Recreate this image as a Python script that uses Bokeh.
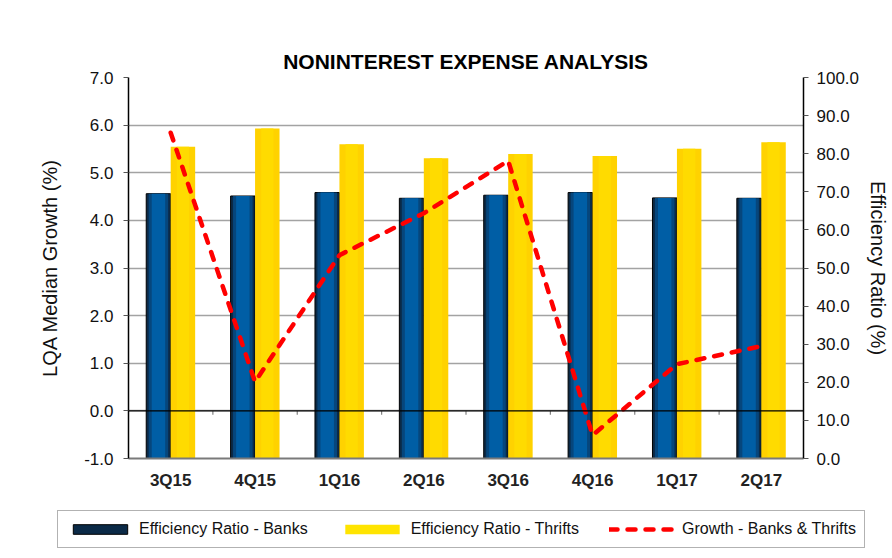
from bokeh.plotting import figure
from bokeh.models import (Range1d, LinearAxis, FixedTicker, Span, Legend, LegendItem,
                          ColumnDataSource, NumeralTickFormatter)
from bokeh.layouts import column, row
from bokeh.embed import file_html
from bokeh.resources import INLINE

quarters = ["3Q15", "4Q15", "1Q16", "2Q16", "3Q16", "4Q16", "1Q17", "2Q17"]
eff_banks = [69.5, 68.9, 69.8, 68.3, 69.1, 69.8, 68.4, 68.3]
eff_thrifts = [81.8, 86.6, 82.5, 78.8, 79.9, 79.4, 81.3, 83.0]
growth = [5.84, 0.61, 3.27, 4.15, 5.25, -0.51, 0.98, 1.36]
left_ticks = [-1, 0, 1, 2, 3, 4, 5, 6, 7]
right_ticks = [0, 10, 20, 30, 40, 50, 60, 70, 80, 90, 100]
series_names = ["Efficiency Ratio - Banks", "Efficiency Ratio - Thrifts", "Growth - Banks & Thrifts"]

FONT = "Liberation Sans"
BLUE_EDGE, BLUE_MID, BLUE_IN = "#0b2a47", "#06467c", "#005ea5"
YELLOW, YELLOW_IN = "#ffd200", "#ffdb00"
RED = "#ff0000"
n = len(quarters)
centers = [i + 0.5 for i in range(n)]
bw = 0.29

src = ColumnDataSource(dict(
    xc=centers,
    xb=[c - bw / 2 for c in centers],
    xt=[c + bw / 2 for c in centers],
    banks=eff_banks,
    thrifts=eff_thrifts,
    growth=growth,
))

p = figure(width=892, height=505, output_backend="svg", toolbar_location=None,
           x_range=Range1d(0, n), y_range=Range1d(left_ticks[0], left_ticks[-1]),
           min_border_left=128, min_border_right=87, min_border_top=77, min_border_bottom=47,
           background_fill_color="white", border_fill_color="white")
p.outline_line_color = None
p.extra_y_ranges = {"eff": Range1d(right_ticks[0], right_ticks[-1])}

# title
p.title.text = "NONINTEREST EXPENSE ANALYSIS"
p.title.align = "center"
p.title.text_font = FONT
p.title.text_font_size = "21px"
p.title.text_font_style = "bold"
p.title.text_color = "black"
p.title.standoff = 10

# grid
p.xgrid.grid_line_color = None
p.ygrid.grid_line_color = "#a3a3a3"
p.ygrid.grid_line_width = 1.6
p.ygrid.ticker = FixedTicker(ticks=left_ticks)

# bars (right axis)
p.vbar(x="xb", top="banks", bottom=0, width=bw, source=src, y_range_name="eff",
       fill_color=BLUE_EDGE, line_color="black", line_width=1)
p.vbar(x="xb", top="banks", bottom=0, width=bw * 0.8, source=src, y_range_name="eff",
       fill_color=BLUE_MID, line_color=None)
p.vbar(x="xb", top="banks", bottom=0, width=bw * 0.55, source=src, y_range_name="eff",
       fill_color=BLUE_IN, line_color=None)
p.vbar(x="xt", top="thrifts", bottom=0, width=bw, source=src, y_range_name="eff",
       fill_color=YELLOW, line_color=None)
p.vbar(x="xt", top="thrifts", bottom=0, width=bw * 0.5, source=src, y_range_name="eff",
       fill_color=YELLOW_IN, line_color=None)

# zero line and its small ticks
p.add_layout(Span(location=0, dimension="width", line_color="black", line_width=1.2))
bx = list(range(1, n))
p.segment(x0=bx, y0=[0] * len(bx), x1=bx, y1=[-0.08] * len(bx), line_color="#808080", line_width=1.2)

# growth line (left axis)
p.line(x="xc", y="growth", source=src, line_color=RED, line_width=4.5,
       line_dash="8 10", line_cap="round")

# left axis
ax = p.yaxis[0]
ax.ticker = FixedTicker(ticks=left_ticks)
ax.formatter = NumeralTickFormatter(format="0.0")
ax.axis_label = "LQA Median Growth (%)"
ax.axis_label_text_font = FONT
ax.axis_label_text_font_size = "20px"
ax.axis_label_text_font_style = "normal"
ax.axis_label_text_color = "#111111"
ax.axis_label_standoff = 20
ax.major_label_text_font = FONT
ax.major_label_text_font_size = "17px"
ax.major_label_text_color = "#111111"
ax.major_label_standoff = 10
ax.major_tick_out = 5
ax.major_tick_in = 0
ax.minor_tick_out = 0
ax.minor_tick_in = 0
ax.axis_line_color = "black"
ax.axis_line_width = 1.5
ax.major_tick_line_color = "#555555"

# right axis
ra = LinearAxis(y_range_name="eff", ticker=FixedTicker(ticks=right_ticks),
                formatter=NumeralTickFormatter(format="0.0"))
ra.axis_label = "Efficiency Ratio (%)"
ra.axis_label_text_font = FONT
ra.axis_label_text_font_size = "20px"
ra.axis_label_text_font_style = "normal"
ra.axis_label_text_color = "#111111"
ra.axis_label_standoff = 5
ra.major_label_text_font = FONT
ra.major_label_text_font_size = "17px"
ra.major_label_text_color = "#111111"
ra.major_label_standoff = 8
ra.major_tick_out = 5
ra.major_tick_in = 0
ra.minor_tick_out = 0
ra.minor_tick_in = 0
ra.axis_line_color = "black"
ra.axis_line_width = 1.5
ra.major_tick_line_color = "#555555"
p.add_layout(ra, "right")

# bottom axis
xa = p.xaxis[0]
xa.ticker = FixedTicker(ticks=centers)
xa.major_label_overrides = {c: q for c, q in zip(centers, quarters)}
xa.major_label_text_font = FONT
xa.major_label_text_font_size = "17px"
xa.major_label_text_font_style = "bold"
xa.major_label_text_color = "#222222"
xa.major_label_standoff = 12
xa.major_tick_out = 0
xa.major_tick_in = 0
xa.minor_tick_out = 0
xa.minor_tick_in = 0
xa.axis_line_color = "#7a7a7a"
xa.axis_line_width = 2

# legend strip (separate figure below the chart); proxies lie outside its ranges
q = figure(width=892, height=50, output_backend="svg", toolbar_location=None,
           x_range=Range1d(0, 1), y_range=Range1d(0, 1),
           min_border_left=0, min_border_right=0, min_border_top=0, min_border_bottom=0,
           background_fill_color="white", border_fill_color="white")
q.outline_line_color = None
q.axis.visible = False
q.grid.visible = False
lb = q.vbar(x=[-10], top=[-10], bottom=[-11], width=0.1, fill_color=BLUE_EDGE, line_color="black", line_width=1)
lt = q.vbar(x=[-10], top=[-10], bottom=[-11], width=0.1, fill_color="#ffe400", line_color=None)
lg = q.line(x=[-10, -9], y=[-10, -10], line_color=RED, line_width=4.5, line_dash="8 10", line_cap="round")

legend = Legend(items=[
    LegendItem(label=series_names[0], renderers=[lb]),
    LegendItem(label=series_names[1], renderers=[lt]),
    LegendItem(label=series_names[2], renderers=[lg]),
], orientation="horizontal", location=(57, 7), spacing=30, padding=8, margin=0,
    glyph_width=68, glyph_height=12, label_standoff=5, label_height=20,
    label_text_font=FONT, label_text_font_size="16px", label_text_color="#111111",
    border_line_color="#666666", border_line_width=1, background_fill_color="white",
    background_fill_alpha=1)
q.add_layout(legend, "center")

layout = column(p, row(q), spacing=0)
open("out.html", "w").write(file_html(layout, INLINE))
